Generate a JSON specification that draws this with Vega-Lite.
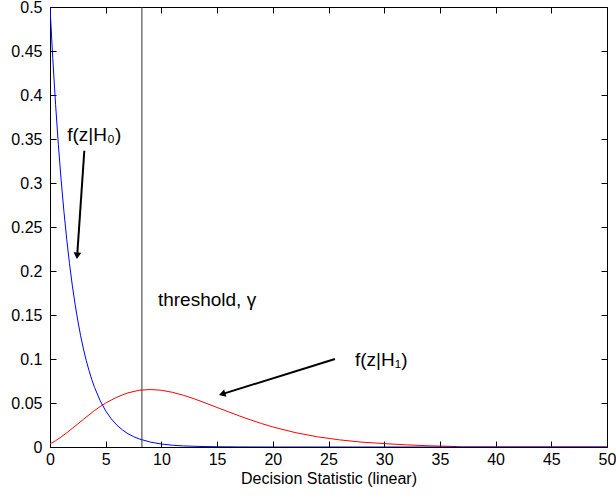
{
  "$schema": "https://vega.github.io/schema/vega-lite/v6.json",
  "width": 557,
  "height": 440,
  "autosize": "none",
  "padding": {"left": 50, "top": 7, "right": 9, "bottom": 51},
  "background": "white",
  "config": {
    "font": "Liberation Sans",
    "view": {"stroke": "black", "strokeWidth": 1},
    "axis": {
      "domain": false,
      "grid": false,
      "ticks": true,
      "tickSize": -6,
      "tickColor": "black",
      "tickWidth": 1,
      "labelFlush": false,
      "labelOverlap": false,
      "labelFont": "Liberation Sans",
      "labelFontSize": 16,
      "labelColor": "black",
      "titleFont": "Liberation Sans",
      "titleFontSize": 16,
      "titleFontWeight": "normal",
      "titleColor": "black"
    }
  },
  "datasets": {
    "h0": [
      {"x": 0, "y": 0.5}, {"x": 0.25, "y": 0.4412}, {"x": 0.5, "y": 0.3894}, {"x": 0.75, "y": 0.3436},
      {"x": 1, "y": 0.3033}, {"x": 1.25, "y": 0.2676}, {"x": 1.5, "y": 0.2362}, {"x": 1.75, "y": 0.2084},
      {"x": 2, "y": 0.1839}, {"x": 2.25, "y": 0.1623}, {"x": 2.5, "y": 0.1433}, {"x": 2.75, "y": 0.1264},
      {"x": 3, "y": 0.1116}, {"x": 3.25, "y": 0.0985}, {"x": 3.5, "y": 0.0869}, {"x": 3.75, "y": 0.0767},
      {"x": 4, "y": 0.0677}, {"x": 4.5, "y": 0.0527}, {"x": 5, "y": 0.041}, {"x": 5.5, "y": 0.032},
      {"x": 6, "y": 0.0249}, {"x": 6.5, "y": 0.0194}, {"x": 7, "y": 0.0151}, {"x": 7.5, "y": 0.0118},
      {"x": 8, "y": 0.0092}, {"x": 9, "y": 0.0056}, {"x": 10, "y": 0.0034}, {"x": 11, "y": 0.002},
      {"x": 12, "y": 0.0012}, {"x": 13, "y": 0.0008}, {"x": 14, "y": 0.0005}, {"x": 15, "y": 0.0003},
      {"x": 17, "y": 0.0001}, {"x": 20, "y": 0}, {"x": 50, "y": 0}
    ],
    "h1": [
      {"x": 0, "y": 0.0036}, {"x": 0.5, "y": 0.0071}, {"x": 1, "y": 0.0114}, {"x": 1.5, "y": 0.0161},
      {"x": 2, "y": 0.0212}, {"x": 2.5, "y": 0.0263}, {"x": 3, "y": 0.0314}, {"x": 3.5, "y": 0.0365},
      {"x": 4, "y": 0.0415}, {"x": 4.5, "y": 0.0459}, {"x": 5, "y": 0.0499}, {"x": 5.5, "y": 0.0534},
      {"x": 6, "y": 0.0565}, {"x": 6.5, "y": 0.0592}, {"x": 7, "y": 0.0615}, {"x": 8, "y": 0.0645},
      {"x": 9, "y": 0.0653}, {"x": 10, "y": 0.0645}, {"x": 11, "y": 0.0621}, {"x": 12, "y": 0.0587},
      {"x": 13, "y": 0.0545}, {"x": 14, "y": 0.0498}, {"x": 15, "y": 0.0449}, {"x": 16, "y": 0.0401},
      {"x": 17, "y": 0.0353}, {"x": 18, "y": 0.0308}, {"x": 19, "y": 0.0266}, {"x": 20, "y": 0.0228},
      {"x": 22, "y": 0.0164}, {"x": 24, "y": 0.0116}, {"x": 26, "y": 0.0081}, {"x": 28, "y": 0.0055},
      {"x": 30, "y": 0.0039}, {"x": 32, "y": 0.0024}, {"x": 34, "y": 0.0014}, {"x": 36, "y": 0.0007},
      {"x": 37, "y": 0}, {"x": 50, "y": 0}
    ],
    "threshold": [{"x": 8.25}],
    "arrows": [
      {"name": "H0", "x": 3.08, "y": 0.3367, "x2": 2.44, "y2": 0.2173},
      {"name": "H1", "x": 25.58, "y": 0.1, "x2": 15.45, "y2": 0.0601}
    ],
    "labels": [
      {"x": 1.55, "y": 0.3545, "text": "f(z|H₀)"},
      {"x": 9.69, "y": 0.167, "text": "threshold, γ"},
      {"x": 27.38, "y": 0.0989, "text": "f(z|H₁)"}
    ]
  },
  "layer": [
    {
      "data": {"name": "h1"},
      "mark": {"type": "line", "color": "#ff0000", "strokeWidth": 1, "clip": true},
      "encoding": {
        "x": {"field": "x", "type": "quantitative", "scale": {"domain": [0, 50], "nice": false},
          "axis": {"orient": "bottom", "values": [0, 5, 10, 15, 20, 25, 30, 35, 40, 45, 50], "labelPadding": 10, "title": "Decision Statistic (linear)", "titlePadding": 3}},
        "y": {"field": "y", "type": "quantitative", "scale": {"domain": [0, 0.5], "nice": false},
          "axis": {"orient": "left", "values": [0, 0.05, 0.1, 0.15, 0.2, 0.25, 0.3, 0.35, 0.4, 0.45, 0.5], "format": ".2~f", "labelPadding": 14, "title": null}}
      }
    },
    {
      "data": {"name": "h0"},
      "mark": {"type": "line", "color": "#0000ff", "strokeWidth": 1, "clip": true},
      "encoding": {
        "x": {"field": "x", "type": "quantitative", "scale": {"domain": [0, 50], "nice": false},
          "axis": {"orient": "top", "values": [0, 5, 10, 15, 20, 25, 30, 35, 40, 45, 50], "labels": false, "title": null}},
        "y": {"field": "y", "type": "quantitative", "scale": {"domain": [0, 0.5], "nice": false},
          "axis": {"orient": "right", "values": [0, 0.05, 0.1, 0.15, 0.2, 0.25, 0.3, 0.35, 0.4, 0.45, 0.5], "labels": false, "title": null}}
      }
    },
    {
      "data": {"name": "threshold"},
      "mark": {"type": "rule", "color": "#333333", "strokeWidth": 1},
      "encoding": {
        "x": {"field": "x", "type": "quantitative", "axis": null}
      }
    },
    {
      "data": {"name": "arrows"},
      "mark": {"type": "rule", "color": "black", "strokeWidth": 2},
      "encoding": {
        "x": {"field": "x", "type": "quantitative", "axis": null},
        "y": {"field": "y", "type": "quantitative", "axis": null},
        "x2": {"field": "x2"},
        "y2": {"field": "y2"}
      }
    },
    {
      "data": {"name": "arrows"},
      "transform": [{"filter": "datum.name === 'H0'"}],
      "mark": {"type": "point", "shape": "triangle-down", "filled": true, "color": "black", "size": 60, "angle": 3.9, "opacity": 1},
      "encoding": {
        "x": {"field": "x2", "type": "quantitative", "axis": null},
        "y": {"field": "y2", "type": "quantitative", "axis": null}
      }
    },
    {
      "data": {"name": "arrows"},
      "transform": [{"filter": "datum.name === 'H1'"}],
      "mark": {"type": "point", "shape": "triangle-left", "filled": true, "color": "black", "size": 60, "angle": 342.8, "opacity": 1},
      "encoding": {
        "x": {"field": "x2", "type": "quantitative", "axis": null},
        "y": {"field": "y2", "type": "quantitative", "axis": null}
      }
    },
    {
      "data": {"name": "labels"},
      "mark": {"type": "text", "align": "left", "baseline": "middle", "fontSize": 19, "font": "Liberation Sans", "color": "black"},
      "encoding": {
        "x": {"field": "x", "type": "quantitative", "axis": null},
        "y": {"field": "y", "type": "quantitative", "axis": null},
        "text": {"field": "text"}
      }
    }
  ],
  "resolve": {"axis": {"x": "independent", "y": "independent"}}
}
